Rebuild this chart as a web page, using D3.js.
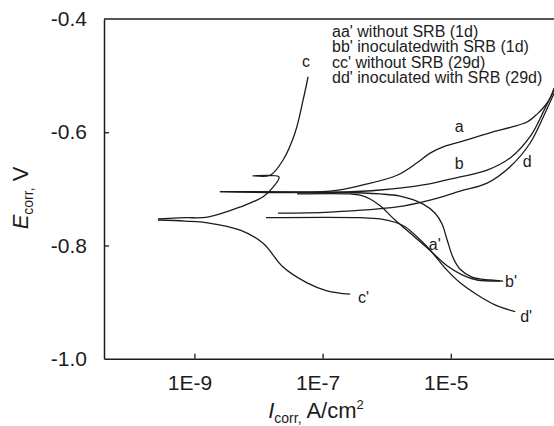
<!DOCTYPE html>
<html>
<head>
<meta charset="utf-8">
<script src="https://cdn.jsdelivr.net/npm/d3@7"></script>
<style>
  html, body { margin: 0; padding: 0; background: #fff; }
  svg { display: block; font-family: "Liberation Sans", Arial, Helvetica, sans-serif; }
</style>
</head>
<body>
<svg id="chart" width="554" height="426"></svg>
<script>
// Potentiodynamic polarization branches, each point: [current density (A/cm²), potential (V)]
// Anodic branches (a, b, c, d) and cathodic branches (a', b', c', d')
const branchA = [[2.5e-9, -0.705], [1.31e-7, -0.704], [4.29e-7, -0.693], [1.45e-6, -0.676],
  [2.98e-6, -0.654], [4.75e-6, -0.637], [7.6e-6, -0.626], [1.40e-5, -0.617], [4.1e-5, -0.601],
  [8.73e-5, -0.591], [1.55e-4, -0.582], [2.22e-4, -0.568], [2.86e-4, -0.555], [3.54e-4, -0.540],
  [4.09e-4, -0.522]];
const branchA1 = [[2.5e-9, -0.705], [1.87e-7, -0.706], [7.9e-7, -0.709], [1.62e-6, -0.713],
  [3.70e-6, -0.727], [5.69e-6, -0.743], [7.31e-6, -0.762], [8.75e-6, -0.790], [1.09e-5, -0.822],
  [1.40e-5, -0.842], [2.15e-5, -0.856], [4.1e-5, -0.861], [6.55e-5, -0.863]];
const branchB = [[4.0e-8, -0.707], [1.87e-7, -0.706], [7.9e-7, -0.702], [3.70e-6, -0.693],
  [8.75e-6, -0.684], [1.40e-5, -0.679], [3.68e-5, -0.667], [8.73e-5, -0.644], [1.79e-4, -0.605],
  [2.86e-4, -0.561], [4.09e-4, -0.525]];
const branchB1 = [[4.0e-8, -0.709], [2.69e-7, -0.709], [3.85e-7, -0.711], [5.51e-7, -0.718],
  [7.9e-7, -0.730], [1.35e-6, -0.755], [2.32e-6, -0.778], [4.27e-6, -0.804], [8.75e-6, -0.836],
  [1.50e-5, -0.852], [2.57e-5, -0.861], [5.87e-5, -0.863]];
const branchC = [[2.7e-10, -0.753], [7.2e-10, -0.751], [1.6e-9, -0.750], [5.2e-9, -0.732],
  [1.18e-8, -0.714], [1.69e-8, -0.697], [2.09e-8, -0.679], [8.2e-9, -0.677], [1.52e-8, -0.676],
  [2.42e-8, -0.649], [3.72e-8, -0.601], [4.97e-8, -0.543], [5.94e-8, -0.502]];
const branchC1 = [[2.7e-10, -0.755], [7.2e-10, -0.757], [1.6e-9, -0.760], [5.2e-9, -0.773],
  [1.18e-8, -0.796], [2.42e-8, -0.838], [5.73e-8, -0.866], [1.17e-7, -0.880], [2.69e-7, -0.886]];
const branchD = [[2.02e-8, -0.743], [1.31e-7, -0.741], [1.45e-6, -0.732], [4.75e-6, -0.720],
  [1.40e-5, -0.704], [3.68e-5, -0.690], [8.41e-5, -0.661], [1.73e-4, -0.619], [2.96e-4, -0.566],
  [4.09e-4, -0.531]];
const branchD1 = [[1.31e-8, -0.751], [3.85e-7, -0.751], [7.9e-7, -0.753], [1.35e-6, -0.759],
  [1.94e-6, -0.767], [3.32e-6, -0.790], [4.75e-6, -0.808], [8.15e-6, -0.840], [1.40e-5, -0.866],
  [2.57e-5, -0.887], [4.91e-5, -0.905], [1.01e-4, -0.917]];

// Curve tags: text, current density, potential, anchor
const tagText   = ["a", "b", "c", "d", "a'", "b'", "c'", "d'"];
const tagI      = [1.35e-5, 1.35e-5, 5.53e-8, 1.55e-4, 4.54e-6, 7.03e-5, 3.58e-7, 1.21e-4];
const tagE      = [-0.600, -0.665, -0.485, -0.661, -0.808, -0.873, -0.902, -0.935];
const tagAnchor = ["middle", "middle", "middle", "middle", "start", "start", "start", "start"];

const legendLines = ["aa' without SRB (1d)", "bb' inoculatedwith SRB (1d)",
  "cc' without SRB (29d)", "dd' inoculated with SRB (29d)"];

const xTicks = [1e-9, 1e-7, 1e-5];
const xTickLabels = ["1E-9", "1E-7", "1E-5"];
const yTicks = [-1.0, -0.8, -0.6, -0.4];
const yTickLabels = ["-1.0", "-0.8", "-0.6", "-0.4"];

const xDomain = [Math.pow(10, -10.41), Math.pow(10, -3.39)];
const yDomain = [-1.0, -0.4];

const svg = d3.select("#chart");
const plotLeft = 104, plotRight = 554, plotTop = 19, plotBottom = 358.7;
const ink = "#1c1c1c";

const x = d3.scaleLog().domain(xDomain).range([plotLeft, plotRight]);
const y = d3.scaleLinear().domain(yDomain).range([plotBottom, plotTop]);

svg.append("defs").append("clipPath").attr("id", "plotClip")
  .append("rect").attr("x", plotLeft).attr("y", plotTop - 2)
  .attr("width", plotRight - plotLeft + 2).attr("height", plotBottom - plotTop + 2);

// Curves
const line = d3.line()
  .x(d => x(d[0]))
  .y(d => y(d[1]))
  .curve(d3.curveCatmullRom.alpha(0.5));

const branches = [branchA, branchA1, branchB, branchB1, branchC, branchC1, branchD, branchD1];
svg.append("g").attr("clip-path", "url(#plotClip)")
  .selectAll("path").data(branches).join("path")
  .attr("d", line)
  .attr("fill", "none")
  .attr("stroke", ink)
  .attr("stroke-width", 1.3)
  .attr("stroke-linejoin", "round");

// Axes
const xAxis = d3.axisBottom(x)
  .tickValues(xTicks)
  .tickFormat((d, i) => xTickLabels[i])
  .tickSizeInner(-5)
  .tickSizeOuter(0)
  .tickPadding(16);
const gx = svg.append("g").attr("transform", `translate(0,${plotBottom})`).call(xAxis);
gx.selectAll("text").attr("dx", -5).style("font-size", "21px");

const yAxis = d3.axisLeft(y)
  .tickValues(yTicks)
  .tickFormat((d, i) => yTickLabels[i])
  .tickSizeInner(-5)
  .tickSizeOuter(0)
  .tickPadding(17);
const gy = svg.append("g").attr("transform", `translate(${plotLeft},0)`).call(yAxis);
gy.selectAll("text").style("font-size", "21px");

[gx, gy].forEach(g => {
  g.attr("font-family", null).attr("font-size", null);
  g.select(".domain").attr("stroke", ink).attr("stroke-width", 1.5);
  g.selectAll(".tick line").attr("stroke", ink).attr("stroke-width", 1.3);
  g.selectAll("text").attr("fill", ink);
});
gy.selectAll(".tick").filter(d => d === -1.0 || d === -0.4).select("line").remove();

// Top frame line
svg.append("line")
  .attr("x1", plotLeft).attr("x2", plotRight + 2)
  .attr("y1", plotTop).attr("y2", plotTop)
  .attr("stroke", ink).attr("stroke-width", 1.5);

// Curve tags
svg.append("g").selectAll("text").data(tagText).join("text")
  .attr("x", (d, i) => x(tagI[i]))
  .attr("y", (d, i) => y(tagE[i]))
  .attr("text-anchor", (d, i) => tagAnchor[i])
  .attr("fill", ink)
  .style("font-size", "16px")
  .text(d => d);

// Legend: one text block, one line per sample
const legend = svg.append("text")
  .attr("x", 332)
  .attr("y", 36.5)
  .attr("fill", ink)
  .style("font-size", "16px");
legend.selectAll("tspan").data(legendLines).join("tspan")
  .attr("x", 332)
  .attr("dy", (d, i) => i === 0 ? 0 : 15.6)
  .text(d => d);

// Axis titles
const yTitle = svg.append("text")
  .attr("transform", "translate(28,198) rotate(-90)")
  .attr("text-anchor", "middle")
  .attr("fill", ink)
  .style("font-size", "22px");
yTitle.append("tspan").style("font-style", "italic").text("E");
yTitle.append("tspan").attr("dy", 5).style("font-size", "14px").text("corr,");
yTitle.append("tspan").attr("dy", -5).text(" V");

const xTitle = svg.append("text")
  .attr("x", 316).attr("y", 418)
  .attr("text-anchor", "middle")
  .attr("fill", ink)
  .style("font-size", "22px");
xTitle.append("tspan").style("font-style", "italic").text("I");
xTitle.append("tspan").attr("dy", 5).style("font-size", "14px").text("corr,");
xTitle.append("tspan").attr("dy", -5).text(" A/cm");
xTitle.append("tspan").attr("dy", -9).style("font-size", "13px").text("2");
</script>
</body>
</html>
